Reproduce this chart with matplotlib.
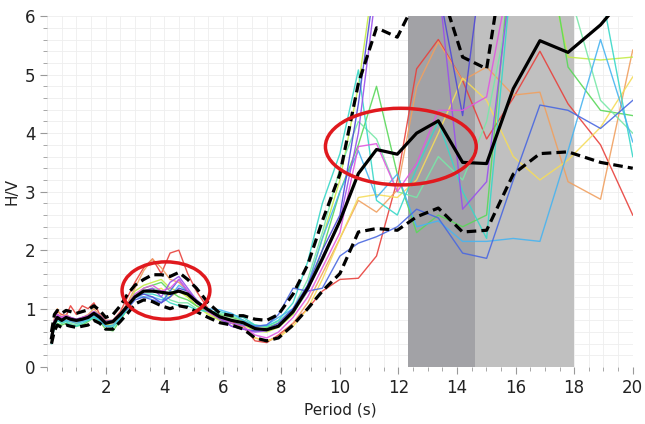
import matplotlib
matplotlib.use("Agg")
import matplotlib.pyplot as plt
from matplotlib.patches import Ellipse
from matplotlib.ticker import MultipleLocator

# Period axis (s)
period = [0.15, 0.25, 0.35, 0.5, 0.65, 0.8, 1.0, 1.2, 1.4, 1.6, 1.8, 2.0,
          2.25, 2.5, 2.75, 3.0, 3.3, 3.6, 3.9, 4.2, 4.5, 4.8, 5.1, 5.5,
          5.9, 6.3, 6.7, 7.1, 7.5, 7.9, 8.4, 8.9, 9.4, 10.0, 10.63, 11.25,
          11.96, 12.62, 13.36, 14.19, 15.01, 15.92, 16.83, 17.79, 18.9, 20.0]

# mean H/V and mean +/- std
hv_mean = [0.5, 0.75, 0.85, 0.8, 0.85, 0.82, 0.8, 0.82, 0.85, 0.92, 0.85, 0.75,
           0.78, 0.9, 1.05, 1.2, 1.3, 1.3, 1.28, 1.26, 1.3, 1.25, 1.12, 0.98,
           0.86, 0.8, 0.76, 0.66, 0.64, 0.7, 0.95, 1.35, 1.85, 2.5, 3.31, 3.72,
           3.64, 4.0, 4.21, 3.5, 3.48, 4.76, 5.58, 5.38, 5.85, 6.5]
hv_upper = [0.6, 0.9, 0.97, 0.92, 0.97, 0.95, 0.92, 0.95, 0.98, 1.05, 0.97, 0.85,
            0.9, 1.05, 1.25, 1.4, 1.5, 1.58, 1.58, 1.55, 1.62, 1.5, 1.35, 1.1,
            0.92, 0.88, 0.88, 0.82, 0.8, 0.9, 1.25, 1.75, 2.5, 3.3, 4.85, 5.8,
            5.64, 6.3, 6.6, 5.3, 5.1, 8.0, 9.0, 9.0, 9.0, 9.0]
hv_lower = [0.4, 0.62, 0.72, 0.68, 0.72, 0.7, 0.68, 0.7, 0.72, 0.8, 0.75, 0.65,
            0.65, 0.78, 0.92, 1.08, 1.15, 1.12, 1.05, 1.0, 1.05, 1.02, 0.95, 0.85,
            0.76, 0.72, 0.65, 0.5, 0.45, 0.5, 0.72, 1.0, 1.3, 1.6, 2.31, 2.37,
            2.34, 2.57, 2.72, 2.31, 2.34, 3.3, 3.65, 3.68, 3.5, 3.4]

# individual windows
hv_red = [0.45, 0.8, 0.95, 0.9, 0.88, 1.05, 0.9, 1.05, 1.0, 1.1, 0.9, 0.8,
          0.8, 0.95, 1.2, 1.45, 1.7, 1.85, 1.6, 1.95, 2.0, 1.6, 1.3, 1.0,
          0.85, 0.78, 0.7, 0.45, 0.42, 0.55, 0.75, 1.0, 1.3, 1.5, 1.52, 1.9,
          3.2, 5.1, 5.6, 4.9, 3.9, 4.6, 5.4, 4.5, 3.8, 2.6]
hv_orange = [0.5, 0.85, 1.0, 0.85, 0.9, 0.85, 0.8, 0.85, 0.9, 1.0, 0.88, 0.78,
             0.8, 0.92, 1.1, 1.35, 1.65, 1.85, 1.7, 1.5, 1.45, 1.3, 1.15, 0.95,
             0.82, 0.75, 0.68, 0.5, 0.45, 0.52, 0.75, 1.1, 1.6, 2.2, 2.85, 2.65,
             3.03, 4.79, 5.56, 4.9, 5.13, 4.65, 4.7, 3.17, 2.87, 5.42]
hv_yellow = [0.45, 0.8, 0.9, 0.85, 0.85, 0.8, 0.75, 0.8, 0.85, 0.9, 0.82, 0.72,
             0.75, 0.85, 1.0, 1.2, 1.3, 1.3, 1.35, 1.2, 1.3, 1.2, 1.05, 0.92,
             0.82, 0.75, 0.68, 0.5, 0.45, 0.5, 0.7, 1.0, 1.5, 2.2, 2.9, 2.95,
             2.9, 3.2, 4.0, 4.94, 4.56, 3.6, 3.2, 3.54, 4.1, 4.96]
hv_lime = [0.5, 0.75, 0.82, 0.75, 0.8, 0.78, 0.75, 0.8, 0.82, 0.88, 0.8, 0.72,
           0.72, 0.88, 1.05, 1.3, 1.4, 1.45, 1.5, 1.35, 1.3, 1.2, 1.05, 0.9,
           0.8, 0.75, 0.72, 0.62, 0.6, 0.68, 0.9, 1.4, 2.2, 3.2, 4.8, 7.0,
           7.5, 7.5, 7.5, 7.0, 7.5, 7.5, 7.5, 5.3, 5.25, 5.3]
hv_green = [0.45, 0.7, 0.75, 0.72, 0.75, 0.72, 0.7, 0.72, 0.78, 0.85, 0.78, 0.65,
            0.62, 0.8, 1.0, 1.2, 1.35, 1.4, 1.45, 1.3, 1.2, 1.15, 1.05, 0.95,
            0.9, 0.85, 0.8, 0.72, 0.68, 0.75, 0.92, 1.3, 2.0, 3.0, 3.8, 4.8,
            3.3, 2.3, 2.6, 2.4, 2.6, 7.5, 8.0, 5.13, 4.39, 4.3]
hv_mint = [0.5, 0.72, 0.8, 0.78, 0.8, 0.75, 0.72, 0.78, 0.8, 0.88, 0.8, 0.7,
           0.7, 0.85, 1.05, 1.25, 1.3, 1.35, 1.3, 1.15, 1.1, 1.1, 1.0, 0.95,
           0.92, 0.88, 0.8, 0.7, 0.7, 0.78, 1.0, 1.5, 2.3, 3.4, 4.2, 3.9,
           3.0, 2.9, 3.6, 3.2, 4.2, 6.5, 7.0, 6.5, 4.56, 4.0]
hv_turq = [0.4, 0.7, 0.8, 0.75, 0.78, 0.72, 0.7, 0.75, 0.8, 0.85, 0.8, 0.7,
           0.68, 0.82, 1.0, 1.2, 1.25, 1.25, 1.2, 1.1, 1.05, 1.05, 0.98, 0.95,
           0.95, 0.9, 0.85, 0.72, 0.7, 0.8, 1.1, 1.8, 2.8, 3.65, 5.08, 2.85,
           2.6, 3.4, 4.2, 3.0, 2.2, 7.0, 7.5, 7.5, 6.5, 3.6]
hv_sky = [0.45, 0.72, 0.82, 0.78, 0.8, 0.78, 0.75, 0.78, 0.82, 0.88, 0.8, 0.7,
          0.72, 0.85, 1.05, 1.2, 1.2, 1.2, 1.15, 1.2, 1.4, 1.3, 1.1, 1.0,
          0.98, 0.92, 0.8, 0.7, 0.72, 0.85, 1.0, 1.4, 2.2, 3.0, 3.7, 2.9,
          3.3, 2.4, 2.5, 2.15, 2.15, 2.2, 2.15, 3.7, 5.6, 3.85]
hv_blue = [0.5, 0.78, 0.85, 0.82, 0.85, 0.8, 0.78, 0.8, 0.85, 0.95, 0.85, 0.75,
           0.78, 0.88, 1.0, 1.15, 1.2, 1.15, 1.1, 1.3, 1.5, 1.3, 1.1, 0.95,
           0.85, 0.75, 0.72, 0.7, 0.72, 0.9, 1.35, 1.3, 1.35, 1.9, 2.12, 2.23,
           2.4, 2.7, 2.55, 1.95, 1.86, 3.2, 4.48, 4.39, 4.08, 4.56]
hv_indigo = [0.55, 0.8, 0.9, 0.85, 0.88, 0.85, 0.82, 0.85, 0.88, 0.95, 0.88, 0.78,
             0.8, 0.92, 1.05, 1.2, 1.25, 1.2, 1.1, 1.2, 1.35, 1.3, 1.15, 0.98,
             0.85, 0.7, 0.65, 0.62, 0.65, 0.75, 1.0, 1.4, 2.0, 2.6, 4.5, 6.8,
             7.0, 7.0, 6.5, 4.3, 7.5, 8.0, 8.0, 8.0, 8.0, 8.0]
hv_violet = [0.5, 0.78, 0.88, 0.82, 0.85, 0.82, 0.8, 0.82, 0.85, 0.9, 0.85, 0.75,
             0.76, 0.9, 1.05, 1.2, 1.3, 1.35, 1.2, 1.45, 1.55, 1.35, 1.15, 0.95,
             0.82, 0.7, 0.65, 0.6, 0.62, 0.72, 0.95, 1.3, 1.9, 2.5, 4.0, 6.5,
             7.0, 7.0, 6.6, 2.7, 3.17, 7.0, 7.5, 7.0, 7.0, 7.0]
hv_magenta = [0.5, 0.8, 0.9, 0.85, 0.88, 0.85, 0.82, 0.85, 0.88, 0.95, 0.86, 0.76,
              0.78, 0.9, 1.08, 1.25, 1.35, 1.4, 1.3, 1.35, 1.5, 1.3, 1.1, 0.95,
              0.84, 0.75, 0.7, 0.55, 0.5, 0.6, 0.85, 1.2, 1.7, 2.3, 3.77, 3.82,
              3.0, 3.48, 4.39, 4.39, 4.62, 7.0, 7.5, 7.0, 7.0, 7.0]

windows = [
    (hv_red, "#e8413c"), (hv_orange, "#f0a060"), (hv_yellow, "#f5dc5a"),
    (hv_lime, "#c4ec48"), (hv_green, "#5ad85a"), (hv_mint, "#78e8a8"),
    (hv_turq, "#38d8c8"), (hv_sky, "#48b4f0"), (hv_blue, "#4a68e0"),
    (hv_indigo, "#5048d8"), (hv_violet, "#9a50ec"), (hv_magenta, "#e058e0"),
]

fig = plt.figure(figsize=(6.45, 4.24), dpi=100)
ax = fig.add_axes([0.073, 0.134, 0.908, 0.828])

# selected period bands
ax.axvspan(12.33, 14.62, color="#a2a2a6", lw=0, zorder=1)
ax.axvspan(14.62, 18.0, color="#c0c0c0", lw=0, zorder=1)

for vals, col in windows:
    ax.plot(period, vals, color=col, lw=1.0, alpha=0.9, zorder=2)

ax.plot(period, hv_mean, color="black", lw=2.3, zorder=4)
ax.plot(period, hv_upper, color="black", lw=2.3, ls=(0, (3, 1.6)), zorder=4)
ax.plot(period, hv_lower, color="black", lw=2.3, ls=(0, (3, 1.6)), zorder=4)

# highlighted peaks
ax.add_patch(Ellipse((4.06, 1.31), 3.0, 0.98, fill=False, edgecolor="#e0191e", lw=2.5, zorder=5))
ax.add_patch(Ellipse((12.08, 3.77), 5.15, 1.31, fill=False, edgecolor="#e0191e", lw=2.5, zorder=5))

ax.set_xlim(0, 20)
ax.set_ylim(0, 6)
ax.xaxis.set_major_locator(MultipleLocator(2))
ax.xaxis.set_minor_locator(MultipleLocator(0.5))
ax.yaxis.set_major_locator(MultipleLocator(1))
ax.yaxis.set_minor_locator(MultipleLocator(0.2))
ax.set_xticks(range(2, 21, 2))
ax.grid(True, which="both", color="#eeeeee", lw=0.6, zorder=0)
ax.set_axisbelow(True)
for s in ax.spines.values():
    s.set_visible(False)
ax.tick_params(which="major", length=5, color="#999999", labelsize=12, labelcolor="#222222")
ax.tick_params(which="minor", length=3, color="#999999")

ax.set_xlabel("Period (s)", fontsize=11, color="#222222")
ax.set_ylabel("H/V", fontsize=11, color="#222222")

fig.savefig("out.png", dpi=100)
